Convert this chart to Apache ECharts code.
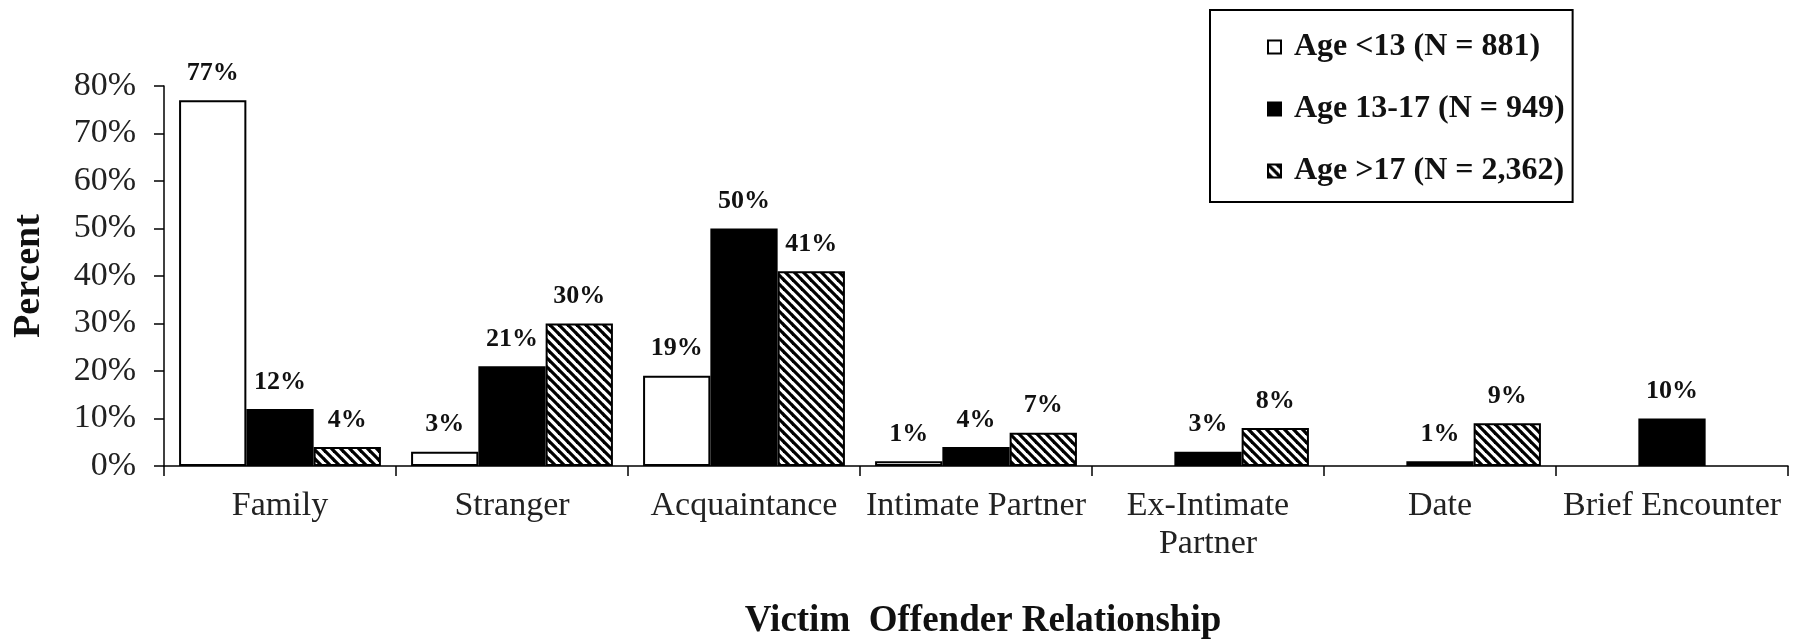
<!DOCTYPE html>
<html>
<head>
<meta charset="utf-8">
<title>Victim Offender Relationship</title>
<script src="https://cdn.jsdelivr.net/npm/echarts@6/dist/echarts.min.js"></script>
<style>
  html, body { margin: 0; padding: 0; background: #fff; }
  #echart { width: 1801px; height: 640px; }
</style>
</head>
<body>
<div id="echart"></div>
<script>
// 数据
var categories = ['Family', 'Stranger', 'Acquaintance', 'Intimate Partner', 'Ex-Intimate\nPartner', 'Date', 'Brief Encounter'];
var seriesNames = ['Age <13 (N = 881)', 'Age 13-17 (N = 949)', 'Age >17 (N = 2,362)'];
var under13 = [77, 3, 19, 1, null, null, null];
var age13to17 = [12, 21, 50, 4, 3, 1, 10];
var over17 = [4, 30, 41, 7, 8, 9, null];
var yTicks = [0, 10, 20, 30, 40, 50, 60, 70, 80];

var serif = '"Liberation Serif", "Times New Roman", serif';

// 斜线填充
function hatch() {
  var s = 9;
  var c = document.createElement('canvas');
  c.width = s;
  c.height = s;
  var ctx = c.getContext('2d');
  ctx.fillStyle = '#fff';
  ctx.fillRect(0, 0, s, s);
  ctx.strokeStyle = '#000';
  ctx.lineWidth = 3.2;
  [-s, 0, s].forEach(function (off) {
    ctx.beginPath();
    ctx.moveTo(-1, off - 1);
    ctx.lineTo(s + 1, s + off + 1);
    ctx.stroke();
  });
  return c;
}

var element = document.getElementById('echart');
var myChart = echarts.init(element, null, { renderer: 'canvas' });

var barLabel = {
  show: true,
  position: 'top',
  distance: 14,
  formatter: '{c}%',
  fontFamily: serif,
  fontWeight: 'bold',
  fontSize: 26,
  color: '#111'
};

function makeSeries(name, data, fill) {
  return {
    name: name,
    type: 'bar',
    data: data,
    barGap: '0%',
    barCategoryGap: '13%',
    itemStyle: {
      color: fill,
      borderColor: '#000',
      borderWidth: 2
    },
    label: barLabel,
    emphasis: { disabled: true }
  };
}

var option = {
  animation: false,
  backgroundColor: '#fff',
  grid: {
    left: 164,
    right: 13,
    top: 86,
    bottom: 174,
    outerBoundsMode: 'none'
  },
  legend: {
    orient: 'vertical',
    left: 1210,
    top: 10,
    padding: [20, 8, 14, 57],
    borderColor: '#000',
    borderWidth: 2,
    itemWidth: 13,
    itemHeight: 13,
    itemGap: 28,
    selectedMode: false,
    icon: 'rect',
    formatter: function (n) { return ' ' + n; },
    textStyle: {
      fontFamily: serif,
      fontWeight: 'bold',
      fontSize: 32,
      lineHeight: 34,
      color: '#111'
    },
    data: seriesNames
  },
  xAxis: {
    type: 'category',
    data: categories,
    name: 'Victim  Offender Relationship',
    nameLocation: 'middle',
    nameGap: 137,
    nameTextStyle: {
      fontFamily: serif,
      fontWeight: 'bold',
      fontSize: 37,
      color: '#111',
      padding: [0, 0, 0, 14]
    },
    axisLine: { lineStyle: { color: '#000', width: 1.5 } },
    axisTick: { show: true, length: 10, lineStyle: { color: '#000', width: 1.5 } },
    axisLabel: {
      interval: 0,
      margin: 21,
      fontFamily: serif,
      fontSize: 34,
      lineHeight: 38,
      color: '#222'
    },
    splitLine: { show: false }
  },
  yAxis: {
    type: 'value',
    min: yTicks[0],
    max: yTicks[yTicks.length - 1],
    interval: 10,
    name: 'Percent',
    nameLocation: 'middle',
    nameGap: 116,
    nameTextStyle: {
      fontFamily: serif,
      fontWeight: 'bold',
      fontSize: 38,
      color: '#111'
    },
    axisLine: { show: true, lineStyle: { color: '#000', width: 1.5 } },
    axisTick: { show: true, length: 10, lineStyle: { color: '#000', width: 1.5 } },
    axisLabel: {
      margin: 28,
      formatter: '{value}%',
      fontFamily: serif,
      fontSize: 34,
      color: '#222'
    },
    splitLine: { show: false }
  },
  series: [
    makeSeries(seriesNames[0], under13, '#fff'),
    makeSeries(seriesNames[1], age13to17, '#000'),
    makeSeries(seriesNames[2], over17, { image: hatch(), repeat: 'repeat' })
  ]
};

myChart.setOption(option);
</script>
</body>
</html>
